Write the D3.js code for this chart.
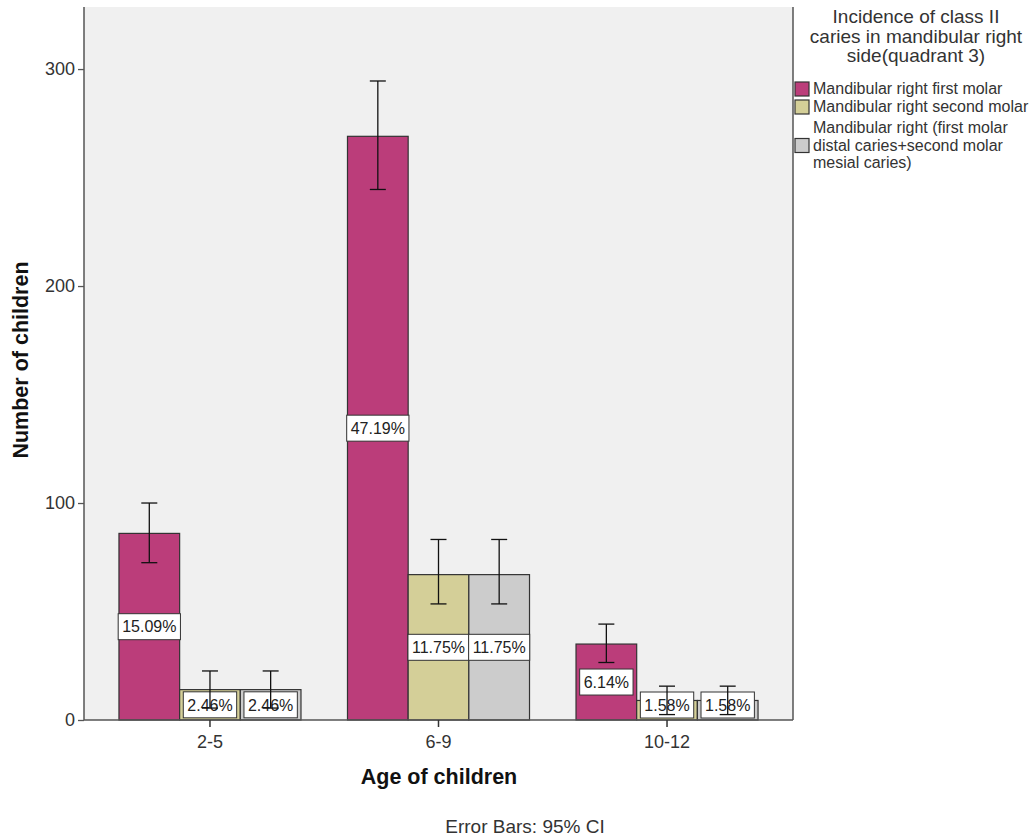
<!DOCTYPE html>
<html>
<head>
<meta charset="utf-8">
<script src="https://cdn.jsdelivr.net/npm/d3@7/dist/d3.min.js"></script>
<style>
  html, body { margin: 0; padding: 0; background: #fff; }
  svg { display: block; font-family: "Liberation Sans", Arial, sans-serif; }
</style>
</head>
<body>
<svg id="chart" width="1035" height="838"></svg>
<script>
// Class II caries counts in the mandibular right side (quadrant 3), by age group
const ageGroups = ["2-5", "6-9", "10-12"];
const seriesNames = [
  "Mandibular right first molar",
  "Mandibular right second molar",
  "Mandibular right (first molar distal caries+second molar mesial caries)"
];
const firstMolar  = [86, 269, 35];
const secondMolar = [14, 67, 9];
const combined    = [14, 67, 9];
// 95% confidence limits for each bar
const firstLow   = [72.5, 244.5, 26.5];
const firstHigh  = [100, 294.5, 44.2];
const secondLow  = [5.5, 53.5, 2.5];
const secondHigh = [22.6, 83.2, 15.6];
const combLow    = [5.5, 53.5, 2.5];
const combHigh   = [22.6, 83.2, 15.6];
const yTicks = [0, 100, 200, 300];
const legendTitle = ["Incidence of class II", "caries in mandibular right", "side(quadrant 3)"];
const legendLines = [
  ["Mandibular right first molar"],
  ["Mandibular right second molar"],
  ["Mandibular right (first molar", "distal caries+second molar", "mesial caries)"]
];
const colors = ["#bb3d7a", "#d4cf98", "#cccccc"];

const seriesValues = [firstMolar, secondMolar, combined];
const seriesLow = [firstLow, secondLow, combLow];
const seriesHigh = [firstHigh, secondHigh, combHigh];
const total = d3.sum(seriesValues.flat());

const rows = [];
ageGroups.forEach((g, gi) => {
  seriesNames.forEach((s, si) => {
    rows.push({ group: g, series: si, value: seriesValues[si][gi],
                lo: seriesLow[si][gi], hi: seriesHigh[si][gi] });
  });
});

const svg = d3.select("#chart");
const plot = { left: 84, right: 793, top: 7, bottom: 720 };

const x = d3.scaleBand().domain(ageGroups)
  .range([plot.left, plot.right]).paddingInner(0.2035).paddingOuter(0.153);
const xs = d3.scaleBand().domain(d3.range(seriesNames.length))
  .range([0, x.bandwidth()]);
const y = d3.scaleLinear().domain([0, 328.6]).range([plot.bottom, plot.top]);

// plot background
svg.append("rect")
  .attr("x", plot.left).attr("y", plot.top)
  .attr("width", plot.right - plot.left).attr("height", plot.bottom - plot.top)
  .attr("fill", "#f0f0f0");

// bars
svg.append("g").selectAll("rect").data(rows).join("rect")
  .attr("x", d => x(d.group) + xs(d.series))
  .attr("y", d => y(d.value))
  .attr("width", xs.bandwidth())
  .attr("height", d => y(0) - y(d.value))
  .attr("fill", d => colors[d.series])
  .attr("stroke", "#333")
  .attr("stroke-width", 1.2);

// percentage labels, kept inside the plot area for short bars
const labels = svg.append("g").selectAll("g").data(rows).join("g")
  .attr("transform", d => {
    const cy = Math.min((y(0) + y(d.value)) / 2, y(0) - 15);
    return `translate(${x(d.group) + xs(d.series) + xs.bandwidth() / 2},${cy})`;
  });
labels.append("text")
  .attr("text-anchor", "middle").attr("dy", "0.36em")
  .attr("font-size", 16).attr("fill", "#222")
  .text(d => (d.value / total * 100).toFixed(2) + "%");
labels.each(function() {
  const g = d3.select(this);
  const bb = g.select("text").node().getBBox();
  g.insert("rect", "text")
    .attr("x", bb.x - 4).attr("y", -13)
    .attr("width", bb.width + 8).attr("height", 26)
    .attr("fill", "#fff").attr("stroke", "#333").attr("stroke-width", 1);
});

// error bars
const eb = svg.append("g").attr("stroke", "#111").attr("stroke-width", 1.3);
rows.forEach(d => {
  const cx = x(d.group) + xs(d.series) + xs.bandwidth() / 2;
  eb.append("line").attr("x1", cx).attr("x2", cx).attr("y1", y(d.lo)).attr("y2", y(d.hi));
  eb.append("line").attr("x1", cx - 8).attr("x2", cx + 8).attr("y1", y(d.hi)).attr("y2", y(d.hi));
  eb.append("line").attr("x1", cx - 8).attr("x2", cx + 8).attr("y1", y(d.lo)).attr("y2", y(d.lo));
});

// right frame line
svg.append("line").attr("x1", plot.right).attr("x2", plot.right)
  .attr("y1", plot.top).attr("y2", plot.bottom)
  .attr("stroke", "#555").attr("stroke-width", 1.5);

// y axis
const yAxis = svg.append("g").attr("transform", `translate(${plot.left},0)`)
  .call(d3.axisLeft(y).tickValues(yTicks).tickSize(6).tickPadding(3).tickSizeOuter(0));
yAxis.select(".domain").attr("stroke", "#555").attr("stroke-width", 1.5)
  .attr("d", `M0,${plot.top}V${plot.bottom}`);
yAxis.selectAll(".tick line").attr("stroke", "#555").attr("stroke-width", 1.3);
yAxis.selectAll(".tick text").attr("font-size", 18).attr("fill", "#333")
  .attr("font-family", "Liberation Sans, Arial, sans-serif");

// x axis
const xAxis = svg.append("g").attr("transform", `translate(0,${plot.bottom})`)
  .call(d3.axisBottom(x).tickSize(7).tickPadding(8).tickSizeOuter(0));
xAxis.select(".domain").attr("stroke", "#555").attr("stroke-width", 1.5)
  .attr("d", `M${plot.left},0H${plot.right}`);
xAxis.selectAll(".tick line").attr("stroke", "#333").attr("stroke-width", 1.5);
xAxis.selectAll(".tick text").attr("font-size", 18).attr("fill", "#333")
  .attr("font-family", "Liberation Sans, Arial, sans-serif");

// axis titles
svg.append("text")
  .attr("transform", `translate(28,360) rotate(-90)`)
  .attr("text-anchor", "middle").attr("font-size", 21.5).attr("font-weight", "bold")
  .attr("fill", "#111").text("Number of children");
svg.append("text")
  .attr("x", 439).attr("y", 784)
  .attr("text-anchor", "middle").attr("font-size", 21.5).attr("font-weight", "bold")
  .attr("fill", "#111").text("Age of children");
svg.append("text")
  .attr("x", 525).attr("y", 833)
  .attr("text-anchor", "middle").attr("font-size", 19)
  .attr("fill", "#333").text("Error Bars: 95% CI");

// legend
const legend = svg.append("g");
legend.append("text")
  .attr("text-anchor", "middle").attr("font-size", 19).attr("fill", "#333")
  .selectAll("tspan").data(legendTitle).join("tspan")
  .attr("x", 916).attr("y", (d, i) => 23 + i * 19.5).text(d => d);

const entryTops = [94, 112, 133];
legendLines.forEach((lines, i) => {
  const midY = entryTops[i] - 5 + (lines.length - 1) * 17.5 / 2;
  legend.append("rect")
    .attr("x", 795).attr("y", midY - 7).attr("width", 14).attr("height", 14)
    .attr("fill", colors[i]).attr("stroke", "#333").attr("stroke-width", 1.2);
  legend.append("text").attr("font-size", 16).attr("fill", "#333")
    .selectAll("tspan").data(lines).join("tspan")
    .attr("x", 813).attr("y", (d, j) => entryTops[i] + j * 17.5).text(d => d);
});
</script>
</body>
</html>
